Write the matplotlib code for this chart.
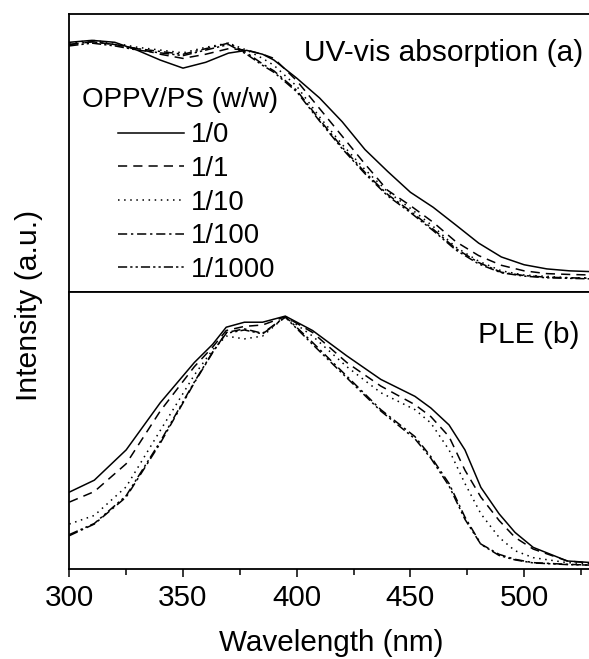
import numpy as np
import matplotlib
matplotlib.use("Agg")
import matplotlib.pyplot as plt

plt.rcParams['font.family'] = ['Liberation Sans', 'DejaVu Sans']

# UV-vis absorption (a), normalised to the panel height
wl_abs = [300, 310, 320, 330, 340, 350, 360, 370, 378, 385, 390, 400, 410,
          420, 430, 440, 450, 460, 470, 480, 490, 500, 510, 520, 530]
abs_1_0 = [.898, .905, .898, .869, .834, .805, .826, .859, .869, .855, .834, .769, .698,
           .612, .512, .433, .358, .304, .240, .175, .125, .097, .082, .075, .072]
abs_1_1 = [.890, .900, .890, .875, .855, .840, .855, .875, .870, .855, .840, .760, .660,
           .560, .460, .365, .310, .250, .180, .130, .095, .075, .065, .062, .060]
abs_1_10 = [.895, .905, .895, .880, .870, .860, .880, .895, .870, .840, .815, .740, .630,
            .530, .440, .360, .300, .235, .160, .110, .075, .060, .055, .050, .050]
abs_1_100 = [.890, .900, .890, .875, .865, .855, .875, .895, .860, .820, .795, .725, .620,
             .520, .430, .350, .290, .225, .155, .105, .070, .058, .052, .050, .048]
abs_1_1000 = [.885, .895, .885, .870, .860, .850, .870, .890, .855, .815, .790, .720, .615,
              .515, .425, .345, .285, .220, .150, .100, .068, .056, .050, .048, .046]

# PLE (b)
wl_ple = [300, 311, 325, 340, 355, 363, 369, 377, 385, 395, 407, 422, 437,
          452, 459, 467, 474, 481, 489, 496, 504, 519, 530]
ple_1_0 = [.278, .321, .430, .600, .745, .810, .872, .890, .890, .912, .860, .769, .684,
           .623, .581, .520, .430, .295, .200, .133, .079, .030, .024]
ple_1_1 = [.242, .280, .380, .570, .730, .800, .860, .875, .880, .910, .853, .745, .660,
           .593, .550, .478, .357, .260, .176, .115, .073, .030, .022]
ple_1_10 = [.163, .194, .297, .500, .700, .790, .840, .830, .840, .910, .840, .730, .636,
            .575, .527, .430, .309, .200, .115, .067, .042, .024, .020]
ple_1_100 = [.121, .163, .260, .454, .672, .780, .853, .866, .850, .910, .817, .696, .575,
             .478, .406, .309, .188, .091, .054, .036, .024, .018, .015]
ple_1_1000 = [.125, .165, .265, .460, .675, .782, .850, .862, .848, .908, .810, .690, .570,
              .470, .400, .300, .180, .090, .050, .034, .023, .017, .015]

labels = ['1/0', '1/1', '1/10', '1/100', '1/1000']
styles = ['-', (0, (6, 4)), (0, (1, 3)), (0, (6, 2.5, 1.5, 2.5)),
          (0, (6, 2, 1.5, 2, 1.5, 2))]


def setup_axis(ax):
    ax.set_xlim(300, 530)
    ax.set_ylim(0, 1)
    ax.set_yticks([])
    ax.set_xticks(np.arange(300, 531, 50))
    ax.set_xticks(np.arange(325, 531, 50), minor=True)
    ax.tick_params(axis='x', which='major', direction='out', length=5.5, width=1.1,
                   labelsize=21.3, pad=5)
    ax.tick_params(axis='x', which='minor', direction='out', length=4, width=1.1)
    for sp in ax.spines.values():
        sp.set_linewidth(1.3)


fig = plt.figure(figsize=(5.89, 6.59), dpi=100)
left = 69.3 / 589
width = 523.0 / 589
ax1 = fig.add_axes([left, 0.5574, width, 0.9788 - 0.5574])
ax2 = fig.add_axes([left, 0.1361, width, 0.5574 - 0.1361])

abs_series = [abs_1_0, abs_1_1, abs_1_10, abs_1_100, abs_1_1000]
ple_series = [ple_1_0, ple_1_1, ple_1_10, ple_1_100, ple_1_1000]

for y, lab, ls in zip(abs_series, labels, styles):
    ax1.plot(wl_abs, y, color='black', linestyle=ls, linewidth=1.1, label=lab)
for y, ls in zip(ple_series, styles):
    ax2.plot(wl_ple, y, color='black', linestyle=ls, linewidth=1.1)

setup_axis(ax1)
setup_axis(ax2)
ax1.tick_params(axis='x', which='both', labelbottom=False)

ax1.text(0.983, 0.86, 'UV-vis absorption (a)', transform=ax1.transAxes,
         ha='right', va='center', fontsize=21.5)
ax2.text(0.975, 0.845, 'PLE (b)', transform=ax2.transAxes,
         ha='right', va='center', fontsize=21.5)
ax1.text(12.5 / 523, (291.7 - 100) / 277.7, 'OPPV/PS (w/w)', transform=ax1.transAxes,
         ha='left', va='center', fontsize=20)

ax1.legend(loc='upper left', bbox_to_anchor=(0.093, 0.61), frameon=False,
           fontsize=19.8, handlelength=2.4, handletextpad=0.25,
           labelspacing=0.28, borderpad=0, borderaxespad=0)

ax2.set_xlabel('Wavelength (nm)', fontsize=21.3, labelpad=12)
fig.text(29 / 589, 1 - 305 / 659, 'Intensity (a.u.)', rotation=90,
         ha='center', va='center', fontsize=21.7)

fig.savefig('out.png', dpi=100)
